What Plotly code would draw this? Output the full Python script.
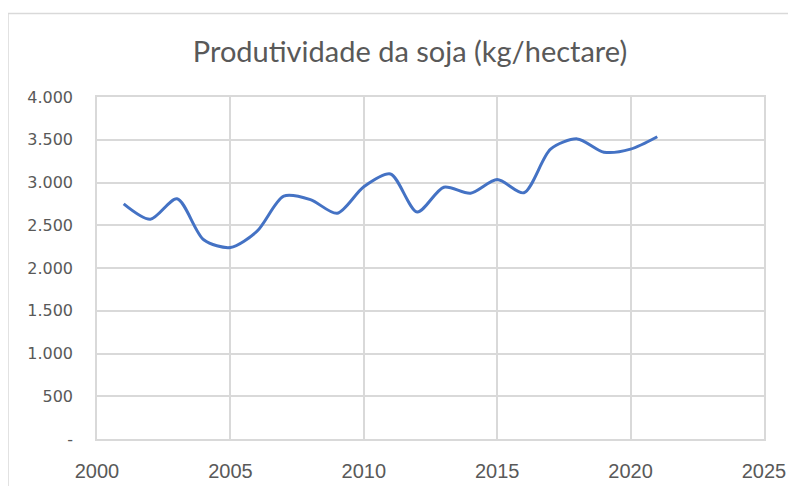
import plotly.graph_objects as go

years = list(range(2001, 2022))
produtividade = [2750, 2570, 2810, 2330, 2240, 2430, 2840, 2800, 2640, 2950, 3100,
                 2655, 2945, 2875, 3035, 2880, 3390, 3510, 3355, 3390, 3535]

y_tickvals = [0, 500, 1000, 1500, 2000, 2500, 3000, 3500, 4000]
y_ticktext = ["-", "500", "1.000", "1.500", "2.000", "2.500", "3.000", "3.500", "4.000"]
x_tickvals = [2000, 2005, 2010, 2015, 2020, 2025]

W, H = 796, 486
OFF = 8  # page offset of the figure in the browser
ml, mt = 97 - OFF, 97 - OFF
pw, ph = 667, 344
mr, mb = W - ml - pw, H - mt - ph

def px_x(p):
    return (p - OFF - ml) / pw

def px_y(p):
    return (mt + ph - (p - OFF)) / ph

fig = go.Figure()
fig.add_trace(go.Scatter(
    x=years, y=produtividade, mode="lines",
    line=dict(color="#4472C4", width=3, shape="spline", smoothing=0.8),
    hoverinfo="x+y",
))

grid = "#D9D9D9"
fig.update_layout(
    width=W, height=H,
    margin=dict(l=ml, r=mr, t=mt, b=mb),
    paper_bgcolor="white", plot_bgcolor="white",
    showlegend=False,
    font=dict(family="Lato, Calibri, sans-serif", color="#595959", size=14),
    title=dict(text="Produtividade da soja (kg/hectare)", x=(410 - OFF) / W, xanchor="center",
               y=1 - (52 - OFF) / H, yanchor="middle",
               font=dict(size=29, color="#595959", family="Lato, sans-serif")),
    xaxis=dict(range=[2000, 2025], tickvals=x_tickvals, showgrid=True, gridcolor=grid,
               gridwidth=1.5, zeroline=False, showline=True, linecolor=grid, linewidth=1.5,
               mirror=True, ticks="", ticklabelstandoff=13,
               tickfont=dict(family="Liberation Sans Narrow, Arial Narrow, sans-serif",
                             size=20, color="#595959")),
    yaxis=dict(range=[0, 4000], tickvals=y_tickvals, ticktext=y_ticktext, showgrid=True,
               gridcolor=grid, gridwidth=1.5, zeroline=False, showline=True, linecolor=grid,
               linewidth=1.5, mirror=True, ticks="", ticklabelstandoff=19,
               tickfont=dict(family="DejaVu Sans, sans-serif", size=16, color="#595959")),
    shapes=[dict(type="rect", xref="paper", yref="paper",
                 x0=px_x(8), x1=px_x(820), y0=px_y(510), y1=px_y(13),
                 line=dict(color="#D9D9D9", width=1.5), fillcolor="rgba(0,0,0,0)", layer="below")],
)

fig.write_html("out.html")
